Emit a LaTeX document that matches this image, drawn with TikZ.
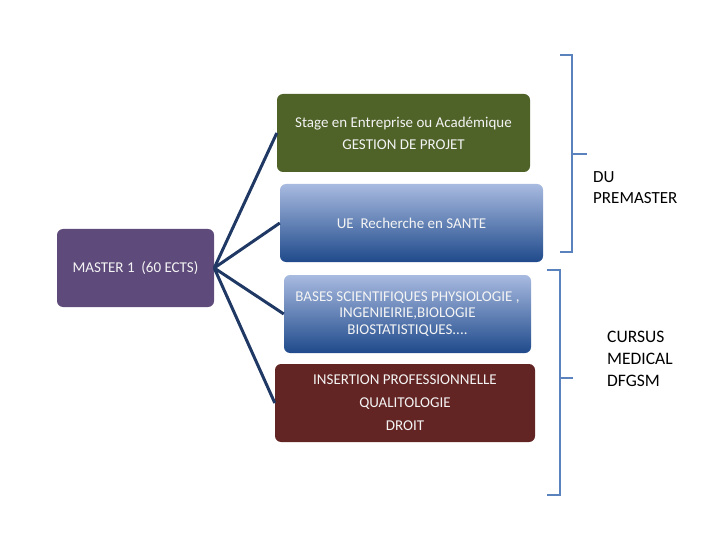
\documentclass[tikz,border=0pt]{standalone}
\usepackage{fontspec}
\setmainfont{Carlito}
\definecolor{greenbox}{HTML}{4F6228}
\definecolor{purplebox}{HTML}{5F4B7B}
\definecolor{maroonbox}{HTML}{632523}
\definecolor{boxlight}{HTML}{A8BAE0}
\definecolor{boxmid}{HTML}{7390C6}
\definecolor{boxdark}{HTML}{1F4A8B}
\definecolor{linkcol}{HTML}{1F3864}
\definecolor{bracecol}{HTML}{5A82BC}
\definecolor{boxtext}{HTML}{F4F4F4}
\begin{document}
\begin{tikzpicture}[x=1pt,y=-1pt,
  box/.style={rounded corners=6pt, inner sep=0pt, text=boxtext, align=center,
    minimum height=78pt, font=\fontsize{15}{22}\selectfont},
  bluebox/.style={box, top color=boxlight, middle color=boxmid, bottom color=boxdark},
  link/.style={draw=linkcol, line width=3pt},
  brace/.style={draw=bracecol, line width=2.5pt},
  lab/.style={align=left, anchor=west, inner sep=0pt, text=black}]
\useasboundingbox (0,0) rectangle (720,540);
\node[box, fill=greenbox, minimum width=253pt] (g) at (403.5,133)
  {Stage en Entreprise ou Académique\\GESTION DE PROJET};
\node[bluebox, minimum width=263pt] (ue) at (411.5,223) {UE~ Recherche en SANTE};
\node[box, fill=purplebox, minimum width=157pt] (m) at (135.5,268) {MASTER 1~ (60 ECTS)};
\node[bluebox, minimum width=247pt, font=\fontsize{15}{16.5}\selectfont] (b) at (407.5,314)
  {BASES SCIENTIFIQUES PHYSIOLOGIE ,\\INGENIEIRIE,BIOLOGIE\\BIOSTATISTIQUES....};
\node[box, fill=maroonbox, minimum width=260pt, font=\fontsize{15}{23}\selectfont] (i) at (405,403)
  {INSERTION PROFESSIONNELLE\\QUALITOLOGIE\\DROIT};
\draw[link] (m.east) -- (g.west);
\draw[link] (m.east) -- (ue.west);
\draw[link] (m.east) -- (b.west);
\draw[link] (m.east) -- (i.west);
\draw[brace] (560,55) -- (572,55) -- (572,252) -- (560,252);
\draw[brace] (572,154) -- (587,154);
\draw[brace] (547,270) -- (560,270) -- (560,495) -- (547,495);
\draw[brace] (560,378) -- (573,378);
\node[lab, font=\fontsize{17}{21}\selectfont] (du) at (593,187.5) {DU\\PREMASTER};
\node[lab, font=\fontsize{17.5}{22}\selectfont] (cm) at (607,359) {CURSUS\\MEDICAL\\DFGSM};
\end{tikzpicture}
\end{document}
